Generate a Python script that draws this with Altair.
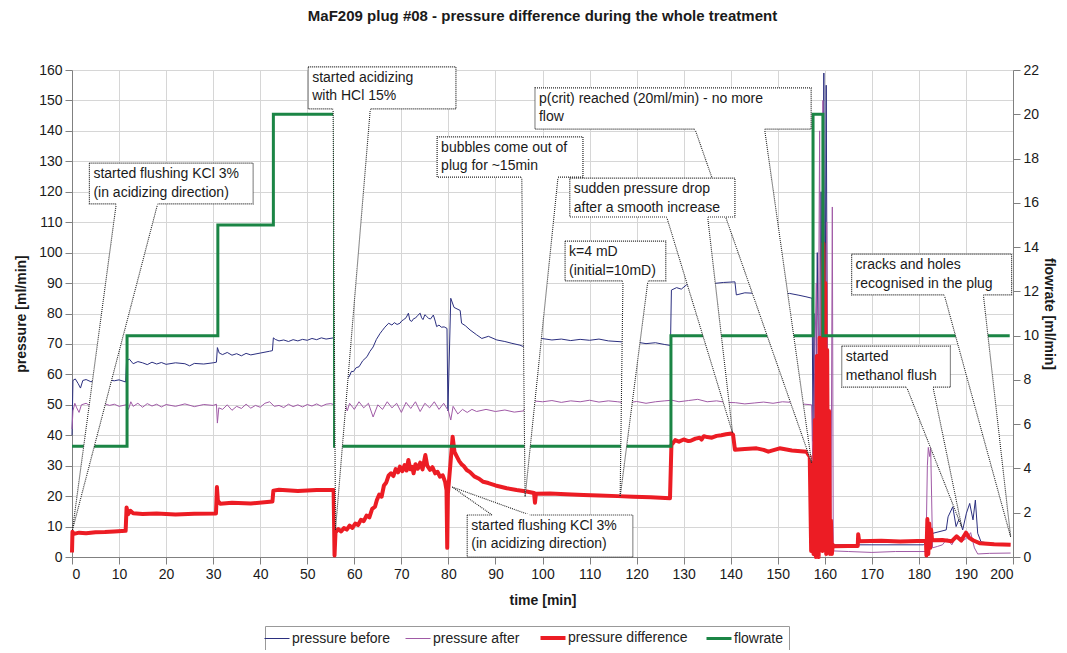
import altair as alt
import pandas as pd

FONT = "Liberation Sans"

# ---------------- data ----------------
SERIES = ["pressure before", "pressure after", "pressure difference", "flowrate"]
COLORS = ["#2b2f7f", "#a05aa6", "#ec1c24", "#1b8545"]
WIDTHS = [1, 1, 4, 3]

flow_t = [0, 11.7, 11.7, 31, 31, 42.8, 42.8, 55.8, 55.8, 127.3, 127.3, 157.5, 157.5, 159.6, 159.6, 199.3]
flow_v = [5, 5, 10, 10, 15, 15, 20, 20, 5, 5, 10, 10, 20, 20, 10, 10]

before_t = [0, 0.2, 0.7, 1.3, 1.8, 2.3, 3, 4, 5, 6, 7, 8, 9, 10, 11.4, 11.6, 12.2, 13, 14, 15, 16, 17, 18, 19, 20,
            22, 24, 25, 26, 28, 30, 30.7, 30.9, 31.3, 32, 33, 34, 35, 36, 37, 38, 40, 42, 42.6, 42.8, 43.2, 44, 45,
            46, 47, 48, 49, 50, 51, 52, 53, 54, 55.6, 55.8, 57, 58.9, 59.4, 59.8, 60.4, 61, 61.8, 62.7, 63.3, 64,
            64.7, 65.5, 66, 66.5, 67.3, 68, 68.5, 69.1, 69.7, 70.1, 70.5, 71, 71.5, 71.8, 72.2, 72.6, 73, 73.5,
            74, 74.3, 74.6, 75, 75.4, 75.8, 76.2, 76.8, 77.2, 77.5, 78, 78.5, 79.1, 79.7, 79.9, 80.5, 81.2, 82.5,
            82.8, 83.6, 84.6, 86, 87.1, 88.5, 90.3, 92, 93.5, 95.2, 96, 96.5, 99.8, 102, 104, 106, 108, 110, 112,
            114, 116.8, 118, 120, 122, 124, 126, 127.2, 127.4, 128.5, 129.5, 130.6, 132, 134, 136.6, 138.5, 140.9,
            141.2, 143, 145.5, 147, 149, 150.5, 152.5, 154.5, 156, 157.3, 157.5, 157.7, 158.0, 158.4, 158.8,
            159.2, 159.5, 159.8, 160.0, 160.3, 160.6, 160.9, 161.2, 170, 181, 182, 183, 185.8, 186.2, 187.2,
            187.9, 188.6, 189.3, 190.1, 190.8, 191.5, 192, 192.5, 193.2, 196, 199.4]
before_v = [40, 58, 58.5, 57, 55.5, 58, 58.3, 57.6, 58.2, 58, 58.4, 58.1, 57.9, 58.2, 57.5, 64.5, 65, 63.5, 64.2,
            63.8, 63.2, 64, 63.4, 63.9, 63.3, 63.8, 63.5, 62.8, 63.6, 63.4, 63.8, 64, 68.8, 67, 66.5, 67.2, 66.3,
            66.8, 66.1, 66.9, 66.4, 67, 67.6, 67.8, 72, 71.5, 71, 71.3, 70.8, 71.4, 71, 71.5, 71.2, 71.8, 71.4,
            72, 71.6, 72, 60, 58, 59.2, 61, 60.9, 62.2, 62.5, 64.5, 65.8, 67.5, 69, 71.5, 73.5, 74.5, 75.5, 76.8,
            76.2, 77, 76.4, 76.8, 77.6, 78, 78.6, 80.1, 77.8, 77.4, 78.3, 78.5, 79.4, 80.1, 78.6, 78, 79.6, 79,
            78.4, 78.2, 79.5, 77.5, 75.7, 76.2, 75.5, 75.6, 75.1, 48, 85, 82, 81, 76.8, 76, 74.6, 73, 71.8, 72.5,
            71.3, 70.8, 70.2, 69.6, 69.1, 71, 71.8, 71.3, 71.6, 71.1, 71.5, 71.2, 71.6, 71, 70.7, 70.4, 70.6,
            70.1, 70.4, 69.8, 69.5, 87.7, 88.5, 88, 89.4, 89, 89.6, 89.9, 90.2, 90.4, 86.1, 86.8, 86.6, 86.2,
            86.8, 86.3, 86.6, 86, 85.5, 85, 38, 80, 30, 100, 45, 120, 70, 159, 50, 155, 40, 20, 4, 4, 4, 6, 7.8,
            8.9, 13.2, 16.5, 10, 12.7, 8.9, 14.4, 17.6, 12.2, 18.7, 7.8, 5, 4.2, 3.9]

after_t = [0.0, 0.2, 0.6, 1.0, 1.5, 2.0, 3, 4, 5, 6, 7, 8, 9, 10, 11.5, 12, 12.5, 13, 14, 15, 16, 17, 18, 19, 20,
           22, 24, 26, 28, 30, 30.7, 30.9, 31.2, 32, 33, 34, 35, 36, 37, 38, 39, 40, 41, 42, 43, 44, 45, 46, 47,
           48, 49, 50, 51, 52, 53, 54, 55, 55.8, 56.5, 58, 58.5, 59, 60, 61, 62, 63, 64, 65, 66, 67, 68, 69, 70,
           71, 72, 73, 74, 75, 76, 77, 78, 79, 80, 80.5, 81, 82, 83, 84, 85, 86, 88, 90, 92, 94, 96, 96.8, 98,
           100, 102, 104, 106, 108, 110, 112, 114, 116, 118, 120, 122, 124, 126, 127.5, 129, 131, 133, 135, 137,
           139, 141, 143, 145, 147, 149, 151, 153, 155, 157.2, 157.5, 157.8, 158.2, 158.5, 158.9, 159.2, 159.6,
           160.0, 160.4, 160.8, 161.3, 161.6, 161.8, 165, 170, 175, 181.5, 181.8, 182.0, 182.3, 182.5, 182.7,
           182.9, 184, 185, 186, 187, 188, 189, 190, 191, 191.8, 192.5, 195, 199.5]
after_v = [42, 48, 50.5, 49, 47.5, 50, 50.5, 49.5, 50, 49.6, 50.3, 49.8, 50.2, 49.5, 50, 48.5, 51, 49.5, 50.5,
           49.2, 50.4, 49.6, 50.2, 49.3, 50.1, 49.5, 50.3, 49.4, 50.1, 49.8, 50.2, 44, 49, 48.5, 50, 48.2, 49.5,
           48.8, 50.2, 48.9, 49.8, 49.2, 50.5, 51, 49.5, 49.8, 49.1, 50.2, 49.4, 50.0, 49.3, 50.1, 49.6, 50.3,
           49.5, 50.2, 50.4, 50, 49.5, 50.5, 48, 50.5, 48.5, 51, 49, 50.5, 46, 50, 48.5, 51, 49, 50.5, 47.5, 50.8,
           48.8, 51, 47.8, 50.5, 49, 51, 48.5, 50.5, 48, 45, 49.5, 47, 48.5, 47.5, 48.5, 47.8, 48.5, 47.8, 48.3,
           47.6, 48, 51, 51.3, 51, 51.4, 50.8, 51.3, 51, 51.5, 50.9, 51.3, 51, 50.6, 51.1, 50.5, 51, 51.3, 51.5,
           51, 51.4, 51.8, 51, 51.3, 50.8, 50.7, 50.3, 50.6, 50.9, 50.5, 51, 50.8, 50.3, 50, 25, 60, 90, 30, 140,
           20, 150, 40, 110, 5, 3, 115, 2, 1.8, 1.5, 1.8, 1.8, 30, 36, 33, 36, 20, 3, 3.5, 4, 6, 4, 7, 5, 6, 8, 3,
           1, 1.2, 1.3]

diff_t = [0.0, 0.1, 0.4, 1.5, 3, 5, 7, 9, 11.4, 11.6, 11.9, 12.4, 13, 15, 18, 22, 26, 30.6, 30.8, 31.0, 31.5, 34,
          38, 42.6, 42.8, 44, 48, 52, 55.6, 55.8, 56.0, 56.6, 57.2, 57.8, 58.4, 59.0, 59.6, 60.2, 60.8, 61.4,
          62.0, 62.6, 63.2, 63.8, 64.4, 64.8, 65.3, 65.8, 66.3, 66.8, 67.3, 67.8, 68.3, 68.8, 69.3, 69.7, 70.2,
          70.7, 71.1, 71.5, 71.9, 72.3, 72.6, 73.0, 73.5, 74.0, 74.5, 75.1, 75.5, 76.1, 76.6, 77.2, 77.7, 78.2,
          78.8, 79.3, 79.6, 79.75, 79.9, 80.4, 80.9, 81.3, 81.8, 82.3, 82.8, 83.3, 83.9, 84.6, 85.5, 86.4, 87.4,
          88.5, 90, 92.4, 94.5, 96.6, 98.2, 98.4, 98.6, 101.6, 105, 108.7, 112, 116, 119.3, 123, 127.1, 127.4,
          128.2, 129, 130, 131, 131.5, 132.5, 133.4, 133.8, 134.3, 135, 136, 137, 138, 139, 140.2, 140.5, 140.9,
          143, 145.5, 147, 148, 150.4, 153, 156.1, 156.8, 157.1, 157.4, 157.6, 157.9, 158.1, 158.3, 158.5,
          158.7, 158.9, 159.1, 159.3, 159.5, 159.7, 159.9, 160.1, 160.3, 160.5, 160.7, 160.9, 161.1, 161.3,
          161.5, 161.7, 162.0, 165, 167.0, 167.1, 167.3, 172, 176, 181.5, 181.6, 181.8, 182.0, 182.2, 182.4,
          182.6, 182.8, 185, 187, 188, 189, 190, 190.7, 191.5, 193, 196, 199.5]
diff_v = [1.5, 8.3, 7.6, 8.0, 7.8, 8.1, 8.2, 8.4, 8.6, 16.3, 14.0, 15.2, 14.4, 14.1, 14.3, 14.0, 14.2, 14.3, 23.0,
          18.5, 17.5, 17.8, 17.6, 18.2, 21.8, 22.1, 21.7, 22.0, 22.0, 0.5, 8.0, 9.2, 8.4, 9.5, 9.0, 10.3, 9.6,
          11.0, 10.5, 12.2, 11.8, 13.6, 13.0, 15.8, 16.5, 18.7, 20.5, 19.8, 23.5, 24.5, 26.8, 27.5, 26.6, 28.9,
          27.8, 29.7, 28.2, 30.2, 28.4, 31.9, 28.8, 29.6, 27.5, 30.5, 29.0, 31.0, 28.8, 33.5, 30.0, 28.6, 29.5,
          27.5, 28.0, 26.4, 26.8, 24.7, 22, 3.0, 21, 30, 39.5, 34.5, 33.0, 31.5, 30.5, 29.8, 28.6, 27.9, 26.5,
          25.8, 24.7, 24.3, 23.5, 22.6, 22.0, 21.5, 21.0, 17.8, 20.8, 20.9, 20.6, 20.4, 20.2, 20.0, 19.8, 19.6,
          19.3, 36.8, 38.4, 37.9, 38.6, 38.1, 38.2, 38.9, 39.2, 38.6, 39.7, 39.4, 39.2, 39.8, 40.0, 40.3, 40.6,
          40.2, 35.2, 35.5, 35.7, 35.2, 34.6, 35.7, 35.0, 34.6, 33.0, 2, 31, 1, 45, 0, 66, 4, 0, 72, 18, 60, 2,
          103, 30, 90, 1, 68, 6, 48, 1, 12, 1, 4, 3.5, 3.6, 3.6, 7.5, 5.2, 5.3, 5.1, 5.3, 0.5, 12.5, 1, 11, 3,
          9, 5.5, 5.6, 5.2, 6.8, 5.4, 8.0, 6.3, 5.5, 4.5, 4.2, 4.0]

# callouts: box (left, right, bottom, top), wedge base (t1, t2) on edge p, apex (t, p)
note_text = ["started flushing KCl 3%\n(in acidizing direction)",
             "started acidizing\nwith HCl 15%",
             "bubbles come out of\nplug for ~15min",
             "p(crit) reached (20ml/min) - no more\nflow",
             "sudden pressure drop\nafter a smooth increase",
             "k=4 mD\n(initial=10mD)",
             "started flushing KCl 3%\n(in acidizing direction)",
             "cracks and holes\nrecognised in the plug",
             "started\nmethanol flush"]
box_l = [3.7, 50.2, 77.6, 98.4, 105.8, 104.8, 84.0, 165.7, 163.6]
box_r = [38.5, 81.6, 108.6, 157.1, 140.9, 126.2, 119.2, 199.7, 186.7]
box_b = [116.0, 147.2, 124.8, 140.6, 111.7, 90.7, 0.0, 86.1, 55.8]
box_t = [129.4, 161.0, 138.0, 154.1, 124.5, 103.8, 13.8, 99.5, 69.3]
wedge_t1 = [9.4, 55.5, 95.6, 132.4, 126.4, 117.1, 89.3, 185.4, 177.4]
wedge_t2 = [18.2, 63.4, 103.3, 147.2, 135.1, 122.4, 97.3, 193.7, 183.0]
wedge_p = [116.0, 147.2, 124.8, 140.6, 111.7, 90.7, 13.8, 86.1, 55.8]
apex_t = [0.1, 56.0, 96.3, 157.2, 140.4, 116.5, 80.8, 199.5, 189.1]
apex_p = [8.9, 8.9, 19.7, 30.9, 40.7, 19.7, 23.0, 6.6, 9.9]

# ---------------- encodings ----------------
XSCALE = alt.Scale(domain=[0, 200], nice=False, zero=False)
XAXIS = alt.Axis(values=list(range(0, 201, 10)), grid=True, title="time [min]", titlePadding=12)
PSCALE = alt.Scale(domain=[0, 160], nice=False)
SW_EXPR = ("datum.value == 'pressure difference' ? 4 : "
           "(datum.value == 'flowrate' ? 3 : 1)")
LEG = alt.Legend(orient="none", legendX=193, legendY=556, direction="horizontal", title=None,
                 symbolType="stroke", symbolSize=625, labelFontSize=14, labelFont=FONT, labelColor="#222",
                 strokeColor="#999", padding=5, columnPadding=12, labelOffset=8, fillColor="white",
                 symbolStrokeWidth={"expr": SW_EXPR})
COLOR = alt.Color("series:N", scale=alt.Scale(domain=SERIES, range=COLORS), legend=LEG)


def X(field="t"):
    return alt.X(field + ":Q", scale=XSCALE, axis=XAXIS, title="time [min]")


def series_layer(ts, vs, name, width):
    df = pd.DataFrame({"t": ts, "p": vs, "series": name, "i": list(range(len(ts)))})
    return alt.Chart(df).mark_line(strokeJoin="round", strokeCap="butt", strokeWidth=width).encode(
        x=X(),
        y=alt.Y("p:Q", scale=PSCALE, title="pressure [ml/min]",
                axis=alt.Axis(values=list(range(0, 161, 10)), grid=True, orient="left", titlePadding=10)),
        color=COLOR, order="i:Q")


pressure = alt.layer(series_layer(before_t, before_v, SERIES[0], WIDTHS[0]),
                     series_layer(after_t, after_v, SERIES[1], WIDTHS[1]),
                     series_layer(diff_t, diff_v, SERIES[2], WIDTHS[2]))

flow_df = pd.DataFrame({"t": flow_t, "f": flow_v, "series": SERIES[3], "i": list(range(len(flow_t)))})
flow = alt.Chart(flow_df).mark_line(strokeJoin="miter", strokeWidth=WIDTHS[3]).encode(
    x=X(),
    y=alt.Y("f:Q", scale=alt.Scale(domain=[0, 22], nice=False), title="flowrate [ml/min]",
            axis=alt.Axis(values=list(range(0, 23, 2)), grid=False, orient="right", titlePadding=3)),
    color=COLOR, order="i:Q")

# annotation tables
n = len(note_text)
wedge_area = pd.DataFrame({
    "id": [k for k in range(n) for _ in (0, 1)],
    "t": [v for k in range(n) for v in (apex_t[k], wedge_t1[k])],
    "t2": [v for k in range(n) for v in (apex_t[k], wedge_t2[k])],
    "p": [v for k in range(n) for v in (apex_p[k], wedge_p[k])],
})
wedge_lines = pd.DataFrame({
    "t": [v for k in range(n) for v in (wedge_t1[k], wedge_t2[k])],
    "p": [wedge_p[k] for k in range(n) for _ in (0, 1)],
    "t2": [apex_t[k] for k in range(n) for _ in (0, 1)],
    "p2": [apex_p[k] for k in range(n) for _ in (0, 1)],
})
boxes = pd.DataFrame({"t": box_l, "t2": box_r, "p": box_b, "p2": box_t, "text": note_text})
gaps = pd.DataFrame({"t": wedge_t1, "t2": wedge_t2,
                     "p": [v - 0.4 for v in wedge_p], "p2": [v + 0.4 for v in wedge_p]})

YA = alt.Y("p:Q", scale=PSCALE, axis=None)
DOT = [1, 1]

w_area = alt.Chart(wedge_area).mark_area(orient="horizontal", color="white", opacity=1).encode(
    x=X(), x2="t2:Q", y=YA, detail="id:N")
w_lines = alt.Chart(wedge_lines).mark_rule(color="#222", strokeWidth=1.1, strokeDash=DOT).encode(
    x=X(), x2="t2:Q", y=YA, y2="p2:Q")
b_rect = alt.Chart(boxes).mark_rect(fill="white", stroke="#222", strokeWidth=1.2, strokeDash=DOT).encode(
    x=X(), x2="t2:Q", y=YA, y2="p2:Q")
g_rect = alt.Chart(gaps).mark_rect(fill="white", strokeWidth=0).encode(
    x=X(), x2="t2:Q", y=YA, y2="p2:Q")
b_text = alt.Chart(boxes).mark_text(align="left", baseline="alphabetic", dx=4, dy=15, fontSize=14,
                                    font=FONT, color="#1a1a1a", lineBreak="\n", lineHeight=18.5).encode(
    x=X(), y=alt.Y("p2:Q", scale=PSCALE, axis=None), text="text:N")

annot = alt.layer(w_area, w_lines, b_rect, g_rect, b_text)

chart = alt.layer(pressure, flow, annot).resolve_scale(y="independent").properties(
    width=941, height=487,
    autosize=alt.AutoSizeParams(type="none"),
    padding={"left": 64, "top": 62, "right": 46, "bottom": 93},
    title=alt.TitleParams("MaF209 plug #08 - pressure difference during the whole treatment",
                          font=FONT, fontSize=15, fontWeight="bold", anchor="middle", offset=39,
                          frame="group", color="#1a1a1a"),
).configure_view(stroke=None).configure_axis(
    labelFont=FONT, titleFont=FONT, labelFontSize=14, titleFontSize=14, titleFontWeight="bold",
    domainColor="#808080", tickColor="#808080", gridColor="#d6d6d6", labelColor="#1a1a1a",
    titleColor="#1a1a1a", tickSize=7, labelPadding=3,
)

chart.save("out.html", embed_options={"renderer": "svg", "actions": False})
